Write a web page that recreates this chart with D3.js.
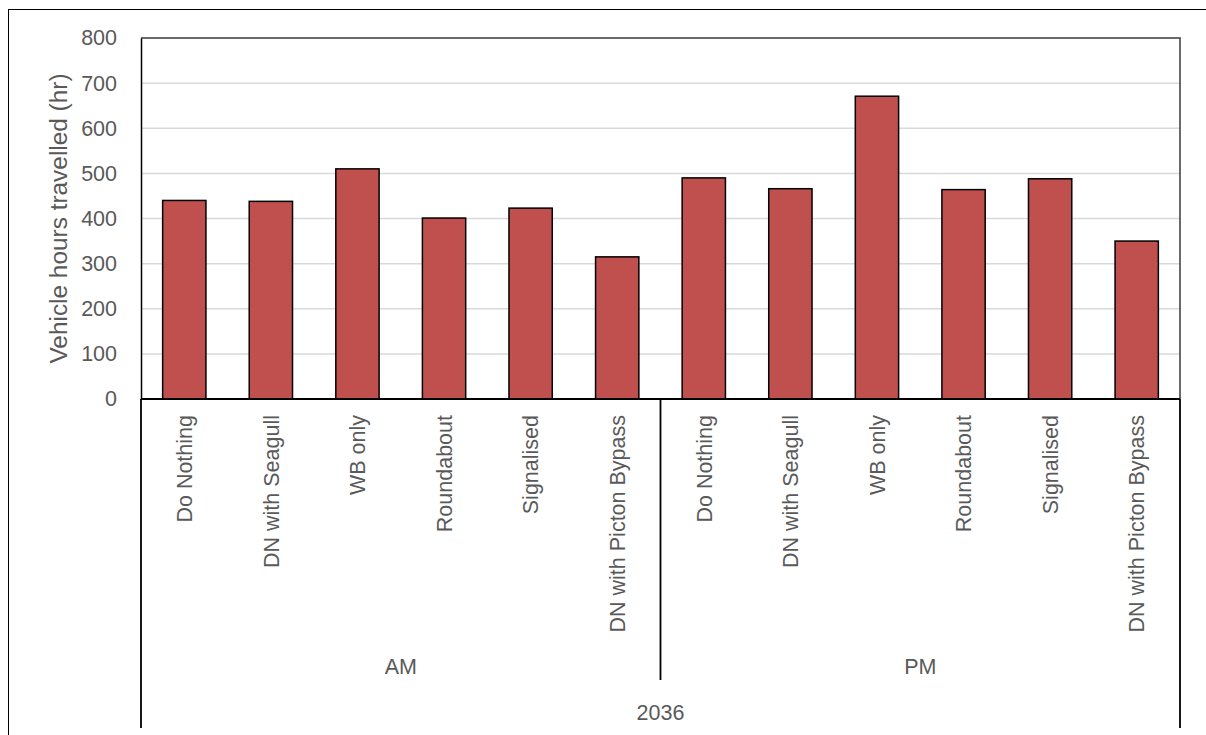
<!DOCTYPE html>
<html>
<head>
<meta charset="utf-8">
<script src="https://cdn.jsdelivr.net/npm/d3@7/dist/d3.min.js"></script>
<style>
  html, body { margin: 0; padding: 0; background: #fff; }
  svg { display: block; }
  text { font-family: "Liberation Sans", Arial, sans-serif; fill: #595959; }
</style>
</head>
<body>
<div id="chart"></div>
<script>
// ---- Data ----
const year = "2036";
const periods = ["AM", "PM"];
const scenarios = ["Do Nothing", "DN with Seagull", "WB only", "Roundabout", "Signalised", "DN with Picton Bypass"];
const amValues = [440, 438, 510, 401, 423, 315];
const pmValues = [490, 466, 671, 464, 488, 350];
const yTicks = [0, 100, 200, 300, 400, 500, 600, 700, 800];
const yTitle = "Vehicle hours travelled (hr)";

// ---- Build rows ----
const seriesByPeriod = { AM: amValues, PM: pmValues };
const rows = [];
periods.forEach(p => scenarios.forEach((s, i) => rows.push({ key: p + "|" + s, period: p, scenario: s, value: seriesByPeriod[p][i] })));

// ---- Layout ----
const W = 1206, H = 735;
const plot = { left: 141, right: 1180, top: 38, bottom: 399 };

const svg = d3.select("#chart").append("svg").attr("width", W).attr("height", H);

// outer chart border (clipped at right/bottom)
svg.append("rect").attr("x", 8.5).attr("y", 9.5).attr("width", W).attr("height", H)
  .attr("fill", "none").attr("stroke", "#000").attr("stroke-width", 1);

const x = d3.scaleBand().domain(rows.map(d => d.key)).range([plot.left, plot.right])
  .paddingInner(0.5).paddingOuter(0.25);
const y = d3.scaleLinear().domain([0, 800]).range([plot.bottom, plot.top]);

// gridlines
svg.append("g").selectAll("line").data(yTicks.filter(t => t > 0 && t < 800)).join("line")
  .attr("x1", plot.left).attr("x2", plot.right)
  .attr("y1", d => y(d)).attr("y2", d => y(d))
  .attr("stroke", "#d9d9d9").attr("stroke-width", 1.5);

// plot area border (top and right)
svg.append("path")
  .attr("d", `M${plot.left},${y(800)}H${plot.right}V${plot.bottom}`)
  .attr("fill", "none").attr("stroke", "#3a3a3a").attr("stroke-width", 1.5);

// bars
svg.append("g").selectAll("rect").data(rows).join("rect")
  .attr("x", d => x(d.key)).attr("width", x.bandwidth())
  .attr("y", d => y(d.value)).attr("height", d => y(0) - y(d.value))
  .attr("fill", "#C0504D").attr("stroke", "#000").attr("stroke-width", 1.5);

// y axis
const yAxis = d3.axisLeft(y).tickValues(yTicks).tickSize(0).tickPadding(24);
const gy = svg.append("g").attr("transform", `translate(${plot.left},0)`).call(yAxis);
gy.select(".domain").attr("stroke", "#000").attr("stroke-width", 1.5);
gy.selectAll("text").style("font-size", "21.5px").attr("fill", "#595959")
  .style("font-family", '"Liberation Sans", Arial, sans-serif');

// baseline (category axis)
svg.append("line").attr("x1", plot.left).attr("x2", plot.right)
  .attr("y1", y(0)).attr("y2", y(0)).attr("stroke", "#000").attr("stroke-width", 2);

// y axis title
svg.append("text")
  .attr("transform", `translate(67, ${(plot.top + plot.bottom) / 2}) rotate(-90)`)
  .attr("text-anchor", "middle")
  .style("font-size", "24.4px")
  .text(yTitle);

// category labels (rotated)
const xAxis = d3.axisBottom(x).tickSize(0).tickFormat(k => k.split("|")[1]);
const gx = svg.append("g").attr("transform", `translate(0,${plot.bottom})`).call(xAxis);
gx.select(".domain").remove();
gx.selectAll(".tick text")
  .attr("transform", "rotate(-90)")
  .attr("text-anchor", "end")
  .attr("x", -16).attr("y", 0).attr("dy", "0.36em")
  .style("font-size", "21.5px")
  .style("font-family", '"Liberation Sans", Arial, sans-serif')
  .attr("fill", "#595959");

// multi-level separators
const periodBounds = periods.map(p => {
  const keys = rows.filter(r => r.period === p).map(r => r.key);
  const step = x.step();
  const x0 = x(keys[0]) - step * x.paddingOuter();
  const x1 = x(keys[keys.length - 1]) + x.bandwidth() + step * x.paddingOuter();
  return { period: p, x0, x1 };
});
const sepG = svg.append("g").attr("stroke", "#000").attr("stroke-width", 1.8);
// outer edges (full height)
sepG.append("line").attr("x1", plot.left).attr("x2", plot.left).attr("y1", plot.bottom).attr("y2", 728);
sepG.append("line").attr("x1", plot.right).attr("x2", plot.right).attr("y1", plot.bottom).attr("y2", 728);
// between periods
periodBounds.slice(0, -1).forEach(b => {
  sepG.append("line").attr("x1", b.x1).attr("x2", b.x1).attr("y1", plot.bottom).attr("y2", 680);
});

// period labels
svg.append("g").selectAll("text").data(periodBounds).join("text")
  .attr("x", d => (d.x0 + d.x1) / 2).attr("y", 666).attr("dy", "0.36em")
  .attr("text-anchor", "middle").style("font-size", "21.5px")
  .text(d => d.period);

// year label
svg.append("text").attr("x", (plot.left + plot.right) / 2).attr("y", 712).attr("dy", "0.36em")
  .attr("text-anchor", "middle").style("font-size", "21.5px").text(year);
</script>
</body>
</html>
